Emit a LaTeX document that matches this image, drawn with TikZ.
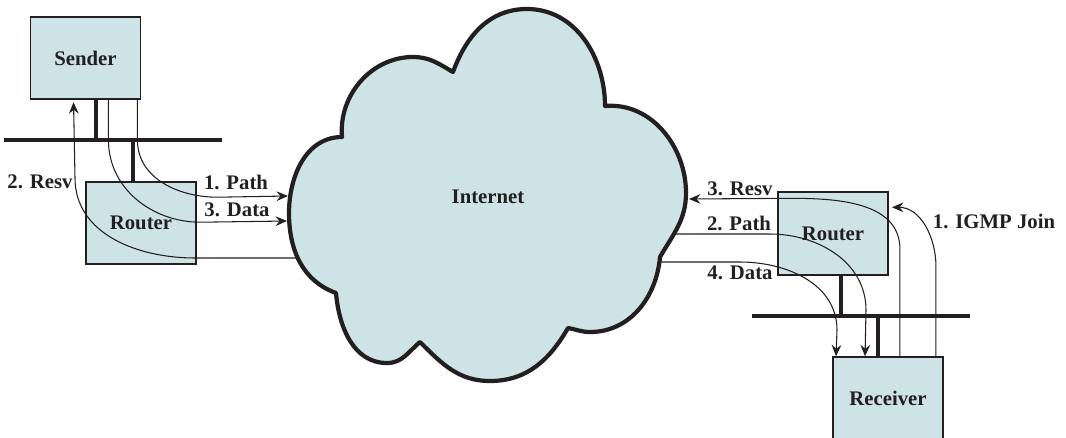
\documentclass[tikz,border=0pt]{standalone}
\usepackage{fontspec}
\setmainfont{Liberation Serif}
\usetikzlibrary{arrows.meta, calc}
\definecolor{BF}{RGB}{205,227,229}
\definecolor{DK}{RGB}{35,31,32}

\begin{document}
\begin{tikzpicture}[x=0.02cm, y=0.02cm,
  box/.style={draw=DK, fill=BF, line width=1.1pt, minimum width=2.2cm,
              minimum height=1.65cm, font=\fontsize{11.8}{14}\selectfont\bfseries, text=DK},
  lbl/.style={font=\fontsize{11.8}{14}\selectfont\bfseries, text=DK, inner sep=1pt},
  wire/.style={draw=DK, line width=2.3pt},
  flow/.style={draw=DK, line width=0.6pt},
  arr/.style={flow, -{Stealth[length=6.5pt, width=5.5pt, inset=2.2pt]}}
]
\useasboundingbox (0,0) rectangle (1066,-437);

% hosts and routers
\node[box] (sender)   at (85.5,-58)   {Sender};
\node[box] (routerL)  at (141,-223)   {Router};
\node[box] (routerR)  at (833,-233.5) {Router};
\node[box] (receiver) at (888,-398.5) {Receiver};

% LAN segments
\coordinate (busL1) at (4,-140);   \coordinate (busL2) at (222,-140);
\coordinate (busR1) at (752,-316); \coordinate (busR2) at (970,-316);
\draw[wire] (busL1) -- (busL2);
\draw[wire] (busR1) -- (busR2);
\draw[wire] ($(sender.south)+(10.5,0)$) coordinate (s1) -- (s1 |- busL1);
\draw[wire] ($(routerL.north)+(-8,0)$) coordinate (s2) -- (s2 |- busL1);
\draw[wire] ($(routerR.south)+(8,0)$) coordinate (s3) -- (s3 |- busR1);
\draw[wire] ($(receiver.north)+(-10,0)$) coordinate (s4) -- (s4 |- busR1);

% points on the cloud edge
\coordinate (pathL) at (288,-196);
\coordinate (dataL) at (287,-221);
\coordinate (resvL) at (305,-258);
\coordinate (resvR) at (689,-199);
\coordinate (pathR) at (670,-234);
\coordinate (dataR) at (650,-262);

% sender side
\draw[arr] ($(sender.south east)+(-4,0)$) -- ++(0,-40) to[out=-90,in=180] ++(80,-57) -- (pathL);
\draw[arr] ($(sender.south east)+(-33,0)$) -- ++(0,-40) to[out=-90,in=180] ++(92,-82) -- (dataL);
\draw[arr] (resvL) -- ++(-110,0) to[out=180,in=-90] ++(-120,80) -- ($(sender.south west)+(44,-2)$);

% receiver side
\draw[arr] ($(receiver.north east)+(-8,0)$) -- ++(0,90) to[out=90,in=0] ($(routerR.north east)+(3,-16)$);
\draw[arr] ($(receiver.north east)+(-44,0)$) -- ++(0,107) to[out=90,in=0] ++(-109,51) -- (resvR);
\draw[arr] (pathR) -- ++(100,0) to[out=0,in=90] ++(96,-76) -- ($(receiver.north west)+(33,0)$);
\draw[arr] (dataR) -- ++(90,0) to[out=0,in=90] ++(97,-68) -- ($(receiver.north west)+(4,0)$);

% Internet cloud
\draw[DK, fill=BF, line width=2.4pt, line join=round]
  (453,-72) to[out=70,in=180] (527,-9) to[out=0,in=90] (605,-106)
  to[out=5,in=90] (686,-193) to[out=-90,in=60] (660,-257)
  to[out=-95,in=0] (590,-332) to[out=180,in=-10] (568,-328)
  to[out=-120,in=0] (490,-381) to[out=180,in=-45] (420,-342)
  to[out=-140,in=0] (387,-363) to[out=180,in=-85] (336,-293)
  to[out=160,in=-90] (289,-213) to[out=90,in=180] (342,-137)
  to[out=95,in=180] (413,-57) to[out=0,in=150] cycle;
\node[lbl] (inet) at (488,-197) {Internet};

% labels
\node[lbl] (lPathL) at (236,-182) {1. Path};
\node[lbl] (lDataL) at (237,-210) {3. Data};
\node[lbl] (lResvL) at (40,-182)  {2. Resv};
\node[lbl] (lResvR) at (740,-189) {3. Resv};
\node[lbl] (lPathR) at (739,-223) {2. Path};
\node[lbl] (lDataR) at (740,-273) {4. Data};
\node[lbl] (lJoin)  at (994,-221) {1. IGMP Join};
\end{tikzpicture}
\end{document}
